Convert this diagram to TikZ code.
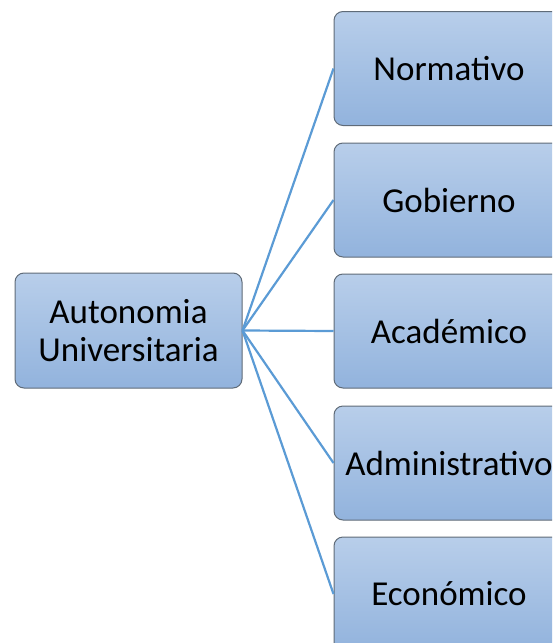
\documentclass[tikz,border=0pt]{standalone}
\usepackage{fontspec}
\setmainfont{Carlito}
\definecolor{boxtop}{HTML}{B8CEEA}
\definecolor{boxbot}{HTML}{92B3DD}
\definecolor{boxline}{HTML}{5F6B78}
\definecolor{linkblue}{HTML}{5B9BD5}
\begin{document}
\begin{tikzpicture}[x=1pt,y=-1pt,
  box/.style={draw=boxline, line width=1pt, rounded corners=9pt,
    top color=boxtop, bottom color=boxbot, inner sep=0pt,
    minimum width=230pt, minimum height=114pt,
    font=\fontsize{35}{38}\selectfont, align=center},
  link/.style={draw=linkblue, line width=2.2pt}]
  \path[use as bounding box, clip] (0,0) rectangle (552,643);
  \node[box, minimum width=227pt, minimum height=115pt] (auto) at (128.5,330.5)
    {Autonomia\\Universitaria};
  \node[box] (norm) at (449,68.5) {Normativo};
  \node[box] (gob) at (449,200) {Gobierno};
  \node[box] (acad) at (449,331) {Académico};
  \node[box] (adm) at (449,463) {Administrativo};
  \node[box] (eco) at (449,594) {Económico};
  \foreach \n in {norm,gob,acad,adm,eco}
    \draw[link] (auto.east) -- (\n.west);
\end{tikzpicture}
\end{document}
